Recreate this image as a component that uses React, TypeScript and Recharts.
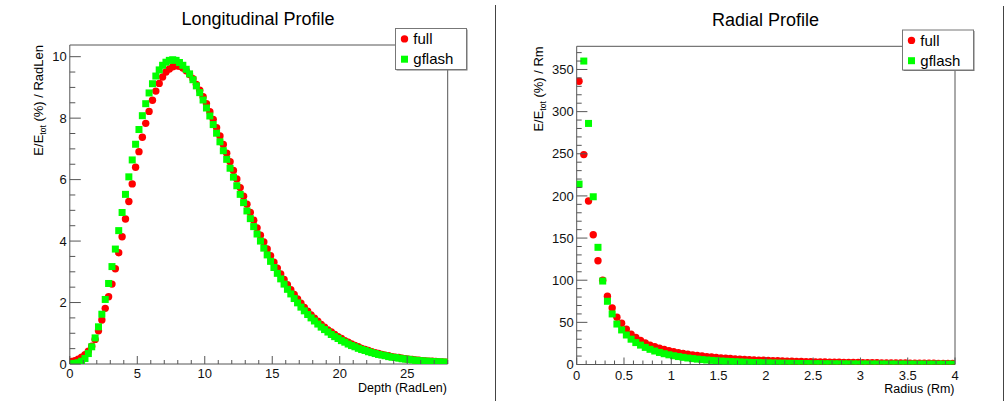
import React from "react";
import { ScatterChart, Scatter, XAxis, YAxis, ReferenceLine } from "recharts";

const FONT = '"Liberation Sans", Arial, Helvetica, sans-serif';
const AXIS_COLOR = "#555555";
const FULL_COLOR = "#ff0000";
const GFLASH_COLOR = "#00ff00";

// ---------- Longitudinal profile: 112 bins of 0.25 RadLen over 0..28 ----------
const DEPTH_BIN_WIDTH = 0.25;
const fullLong = [
  0.08, 0.11, 0.16, 0.22, 0.30, 0.42, 0.58, 0.80,
  1.08, 1.43, 1.81, 2.19, 2.60, 3.10, 3.62, 4.14,
  4.72, 5.29, 5.86, 6.40, 6.91, 7.38, 7.83, 8.22,
  8.58, 8.88, 9.13, 9.34, 9.50, 9.60, 9.67, 9.70,
  9.69, 9.63, 9.54, 9.42, 9.28, 9.10, 8.91, 8.70,
  8.47, 8.21, 7.96, 7.69, 7.42, 7.14, 6.86, 6.58,
  6.30, 6.02, 5.74, 5.46, 5.20, 4.93, 4.68, 4.43,
  4.19, 3.97, 3.74, 3.52, 3.31, 3.12, 2.93, 2.75,
  2.58, 2.42, 2.26, 2.12, 1.98, 1.84, 1.72, 1.60,
  1.49, 1.39, 1.29, 1.20, 1.11, 1.04, 0.96, 0.89,
  0.83, 0.76, 0.71, 0.65, 0.60, 0.56, 0.51, 0.47,
  0.44, 0.40, 0.37, 0.34, 0.31, 0.29, 0.27, 0.24,
  0.22, 0.21, 0.19, 0.17, 0.16, 0.15, 0.13, 0.12,
  0.11, 0.10, 0.09, 0.09, 0.08, 0.07, 0.07, 0.06,
];
const gflashLong = [
  0.01, 0.02, 0.04, 0.09, 0.18, 0.34, 0.56, 0.85,
  1.21, 1.62, 2.10, 2.62, 3.17, 3.74, 4.34, 4.93,
  5.52, 6.09, 6.64, 7.15, 7.63, 8.08, 8.47, 8.82,
  9.12, 9.37, 9.57, 9.72, 9.82, 9.88, 9.90, 9.88,
  9.81, 9.72, 9.59, 9.44, 9.25, 9.05, 8.83, 8.59,
  8.33, 8.07, 7.79, 7.51, 7.23, 6.94, 6.66, 6.37,
  6.08, 5.80, 5.52, 5.25, 4.98, 4.73, 4.47, 4.23,
  4.00, 3.77, 3.55, 3.34, 3.14, 2.95, 2.77, 2.60,
  2.43, 2.28, 2.13, 1.99, 1.85, 1.73, 1.61, 1.50,
  1.40, 1.30, 1.20, 1.12, 1.04, 0.96, 0.89, 0.83,
  0.76, 0.71, 0.65, 0.60, 0.56, 0.51, 0.47, 0.44,
  0.40, 0.37, 0.34, 0.31, 0.29, 0.27, 0.24, 0.22,
  0.21, 0.19, 0.17, 0.16, 0.15, 0.13, 0.12, 0.11,
  0.10, 0.09, 0.09, 0.08, 0.07, 0.07, 0.06, 0.06,
];
const LONG_X_MAX = 28;
const LONG_Y_MAX = 10.38;
const longXMajor = [0, 5, 10, 15, 20, 25];
const longYMajor = [0, 2, 4, 6, 8, 10];
const longXMinorStep = 1;
const longYMinorStep = 0.5;

// ---------- Radial profile: 80 bins of 0.05 Rm over 0..4 ----------
const RADIUS_BIN_WIDTH = 0.05;
const fullRad = [
  336, 249, 194, 154, 123, 100, 81, 67, 56, 49,
  42, 36, 32, 28.5, 25.5, 23, 21, 19.3, 17.8, 16.4,
  15.2, 14.1, 13.1, 12.2, 11.4, 10.7, 10.0, 9.4, 8.9, 8.4,
  7.9, 7.5, 7.1, 6.7, 6.4, 6.1, 5.8, 5.5, 5.2, 5.0,
  4.8, 4.6, 4.4, 4.2, 4.0, 3.85, 3.7, 3.55, 3.4, 3.3,
  3.15, 3.05, 2.95, 2.85, 2.75, 2.65, 2.55, 2.45, 2.4, 2.3,
  2.25, 2.15, 2.1, 2.0, 1.95, 1.9, 1.85, 1.8, 1.75, 1.7,
  1.65, 1.6, 1.55, 1.5, 1.45, 1.4, 1.35, 1.3, 1.25, 1.2,
];
const gflashRad = [
  214, 360, 286, 199, 139, 99, 75, 60, 48, 41,
  35, 30, 26, 23, 20.3, 18, 16, 14.3, 12.8, 11.5,
  10.4, 9.4, 8.5, 7.7, 7.0, 6.4, 5.8, 5.3, 4.9, 4.5,
  4.1, 3.8, 3.5, 3.2, 3.0, 2.75, 2.55, 2.35, 2.2, 2.05,
  1.9, 1.75, 1.65, 1.55, 1.45, 1.35, 1.25, 1.2, 1.1, 1.05,
  1.0, 0.95, 0.9, 0.86, 0.82, 0.78, 0.74, 0.71, 0.68, 0.65,
  0.62, 0.6, 0.58, 0.56, 0.54, 0.52, 0.5, 0.48, 0.47, 0.46,
  0.45, 0.44, 0.43, 0.42, 0.41, 0.4, 0.39, 0.38, 0.37, 0.36,
];
const RAD_X_MAX = 4;
const RAD_Y_MAX = 377.5;
const radXMajor = [0, 0.5, 1, 1.5, 2, 2.5, 3, 3.5, 4];
const radYMajor = [0, 50, 100, 150, 200, 250, 300, 350];
const radXMinorStep = 0.1;
const radYMinorStep = 10;

const legendLabels = ["full", "gflash"];

const Y_AXIS_W = 40;
const X_AXIS_H = 30;

function toPoints(values: number[], binWidth: number) {
  return values.map((v, i) => ({ x: (i + 0.5) * binWidth, y: v }));
}

function minorTicks(max: number, step: number) {
  const out: number[] = [];
  const n = Math.floor(max / step + 1e-6);
  for (let i = 0; i <= n; i++) out.push(Math.round(i * step * 1000) / 1000);
  return out;
}

function isMajor(v: number, majors: number[]) {
  return majors.some((m) => Math.abs(m - v) < 1e-6);
}

const CircleShape = (p: any) => <circle cx={p.cx} cy={p.cy} r={3.7} fill={FULL_COLOR} />;
const SquareShape = (p: any) => (
  <rect x={p.cx - 3.5} y={p.cy - 3.5} width={7} height={7} fill={GFLASH_COLOR} />
);

type PanelProps = {
  full: number[];
  gflash: number[];
  binWidth: number;
  xMax: number;
  yMax: number;
  xMajor: number[];
  yMajor: number[];
  xStep: number;
  yStep: number;
  width: number;
  height: number;
  plotLeft: number;
  plotTop: number;
  plotRight: number;
  plotBottom: number;
  xMajorLen: number;
  xMinorLen: number;
  yMajorLen: number;
  yMinorLen: number;
  xLabelDy: number;
};

function Panel(props: PanelProps) {
  const {
    full, gflash, binWidth, xMax, yMax, xMajor, yMajor, xStep, yStep,
    width, height, plotLeft, plotTop, plotRight, plotBottom,
    xMajorLen, xMinorLen, yMajorLen, yMinorLen, xLabelDy,
  } = props;
  const fullData = toPoints(full, binWidth);
  const gflashData = toPoints(gflash, binWidth);
  const xTicks = minorTicks(xMax, xStep);
  const yTicks = minorTicks(yMax, yStep);
  const margin = {
    top: plotTop,
    right: width - plotRight,
    bottom: height - plotBottom - X_AXIS_H,
    left: plotLeft - Y_AXIS_W,
  };

  const renderXTick = (p: any) => {
    const v = p.payload.value;
    const major = isMajor(v, xMajor);
    return (
      <g>
        <line x1={p.x} y1={p.y} x2={p.x} y2={p.y - (major ? xMajorLen : xMinorLen)} stroke={AXIS_COLOR} strokeWidth={1} />
        {major && (
          <text x={p.x} y={p.y + xLabelDy} textAnchor="middle" fontSize={13} fontFamily={FONT} fill="#111">
            {String(v)}
          </text>
        )}
      </g>
    );
  };
  const renderYTick = (p: any) => {
    const v = p.payload.value;
    const major = isMajor(v, yMajor);
    return (
      <g>
        <line x1={p.x} y1={p.y} x2={p.x + (major ? yMajorLen : yMinorLen)} y2={p.y} stroke={AXIS_COLOR} strokeWidth={1} />
        {major && (
          <text x={p.x - 3} y={p.y + 4.6} textAnchor="end" fontSize={13} fontFamily={FONT} fill="#111">
            {String(v)}
          </text>
        )}
      </g>
    );
  };

  return (
    <ScatterChart width={width} height={height} margin={margin}>
      <XAxis
        type="number"
        dataKey="x"
        domain={[0, xMax]}
        ticks={xTicks}
        interval={0}
        tickSize={0}
        tickMargin={0}
        height={X_AXIS_H}
        allowDataOverflow
        axisLine={{ stroke: AXIS_COLOR }}
        tickLine={false}
        tick={renderXTick}
      />
      <YAxis
        type="number"
        dataKey="y"
        domain={[0, yMax]}
        ticks={yTicks}
        interval={0}
        tickSize={0}
        tickMargin={0}
        width={Y_AXIS_W}
        allowDataOverflow
        axisLine={{ stroke: AXIS_COLOR }}
        tickLine={false}
        tick={renderYTick}
      />
      <ReferenceLine y={yMax} stroke={AXIS_COLOR} ifOverflow="visible" />
      <ReferenceLine x={xMax} stroke={AXIS_COLOR} ifOverflow="visible" />
      <Scatter name={legendLabels[0]} data={fullData} shape={CircleShape} isAnimationActive={false} />
      <Scatter name={legendLabels[1]} data={gflashData} shape={SquareShape} isAnimationActive={false} />
    </ScatterChart>
  );
}

function LegendBox({ x, y, w, h }: { x: number; y: number; w: number; h: number }) {
  return (
    <g>
      <rect x={x + 1} y={y + 1} width={w} height={h} fill="#777" />
      <rect x={x} y={y} width={w} height={h} fill="#fff" stroke="#777" strokeWidth={1} />
      <circle cx={x + 9} cy={y + 10.4} r={3.7} fill={FULL_COLOR} />
      <rect x={x + 5.5} y={y + 27.2} width={7} height={7} fill={GFLASH_COLOR} />
      <text x={x + 17.8} y={y + 15.6} fontSize={15} fontFamily={FONT} fill="#000">{legendLabels[0]}</text>
      <text x={x + 17.8} y={y + 35.5} fontSize={15} fontFamily={FONT} fill="#000">{legendLabels[1]}</text>
    </g>
  );
}

export default function App() {
  return (
    <div style={{ position: "absolute", left: 0, top: 0, width: 1005, height: 401, background: "#fff", overflow: "hidden" }}>
      <div style={{ position: "absolute", left: 0, top: 0 }}>
        <Panel
          full={fullLong}
          gflash={gflashLong}
          binWidth={DEPTH_BIN_WIDTH}
          xMax={LONG_X_MAX}
          yMax={LONG_Y_MAX}
          xMajor={longXMajor}
          yMajor={longYMajor}
          xStep={longXMinorStep}
          yStep={longYMinorStep}
          width={495}
          height={401}
          plotLeft={69.8}
          plotTop={45}
          plotRight={447.7}
          plotBottom={364}
          xMajorLen={8}
          xMinorLen={4}
          yMajorLen={11}
          yMinorLen={5.5}
          xLabelDy={13.5}
        />
      </div>
      <div style={{ position: "absolute", left: 500, top: 0 }}>
        <Panel
          full={fullRad}
          gflash={gflashRad}
          binWidth={RADIUS_BIN_WIDTH}
          xMax={RAD_X_MAX}
          yMax={RAD_Y_MAX}
          xMajor={radXMajor}
          yMajor={radYMajor}
          xStep={radXMinorStep}
          yStep={radYMinorStep}
          width={505}
          height={401}
          plotLeft={76.7}
          plotTop={46.3}
          plotRight={455}
          plotBottom={364.5}
          xMajorLen={7}
          xMinorLen={4}
          yMajorLen={10.7}
          yMinorLen={5}
          xLabelDy={15}
        />
      </div>
      <svg width={1005} height={401} style={{ position: "absolute", left: 0, top: 0, pointerEvents: "none" }}>
        <text x={258} y={25} textAnchor="middle" fontSize={18} fontFamily={FONT} fill="#000">Longitudinal Profile</text>
        <text x={765.5} y={26} textAnchor="middle" fontSize={18} fontFamily={FONT} fill="#000">Radial Profile</text>

        <text transform="translate(42.5,45) rotate(-90)" textAnchor="end" fontSize={13} fontFamily={FONT} fill="#000">
          E/E<tspan fontSize={8.5} dy={3}>tot</tspan><tspan dy={-3}> (%) / RadLen</tspan>
        </text>
        <text transform="translate(542.5,46.3) rotate(-90)" textAnchor="end" fontSize={13} fontFamily={FONT} fill="#000">
          E/E<tspan fontSize={8.5} dy={3}>tot</tspan><tspan dy={-3}> (%) / Rm</tspan>
        </text>

        <text x={447} y={391.5} textAnchor="end" fontSize={12.5} fontFamily={FONT} fill="#000">Depth (RadLen)</text>
        <text x={954.5} y={393} textAnchor="end" fontSize={12.5} fontFamily={FONT} fill="#000">Radius (Rm)</text>

        <LegendBox x={395.5} y={28.5} w={71} h={41} />
        <LegendBox x={902.5} y={30} w={71} h={40} />

        <line x1={495.5} y1={5} x2={495.5} y2={401} stroke="#444" strokeWidth={1} />
        <line x1={1003.5} y1={6} x2={1003.5} y2={401} stroke="#444" strokeWidth={1} />
      </svg>
    </div>
  );
}
